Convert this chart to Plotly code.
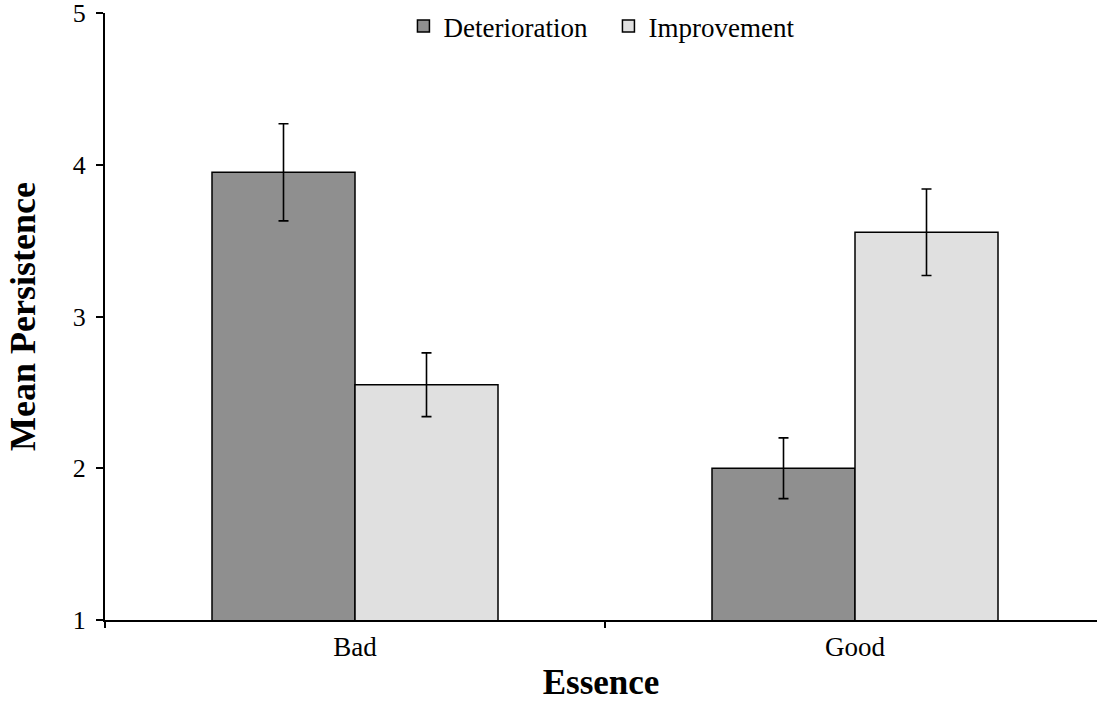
import plotly.graph_objects as go

categories = ["Bad", "Good"]
deterioration = [3.95, 2.00]
deterioration_err = [0.32, 0.20]
improvement = [2.55, 3.555]
improvement_err = [0.21, 0.285]
y_ticks = [1, 2, 3, 4, 5]

font_family = "Liberation Serif, Times New Roman, serif"

fig = go.Figure()
fig.add_trace(go.Bar(
    name="Deterioration", x=categories, y=deterioration,
    marker=dict(color="#8f8f8f", line=dict(color="black", width=1.5)),
    error_y=dict(type="data", array=deterioration_err, color="black", thickness=1.6, width=5),
))
fig.add_trace(go.Bar(
    name="Improvement", x=categories, y=improvement,
    marker=dict(color="#e0e0e0", line=dict(color="black", width=1.5)),
    error_y=dict(type="data", array=improvement_err, color="black", thickness=1.6, width=5),
))

fig.update_layout(
    width=1097, height=702,
    margin=dict(l=105, r=0, t=13, b=82, autoexpand=False),
    plot_bgcolor="white", paper_bgcolor="white",
    barmode="group", bargap=0.428, bargroupgap=0,
    font=dict(family=font_family, color="black", size=27),
    showlegend=True,
    legend=dict(orientation="h", x=0.5075, xanchor="center", y=1.018, yanchor="top",
                font=dict(size=27, family=font_family), bgcolor="rgba(0,0,0,0)",
                tracegroupgap=0, itemwidth=30, entrywidth=160),
    xaxis=dict(
        range=[-0.5, 1.484], showline=True, linecolor="black", linewidth=2,
        ticks="outside", tickson="boundaries", ticklen=6, tickcolor="black", tickwidth=1.5,
        tickfont=dict(size=27), showgrid=False, ticklabelstandoff=2,
        title=dict(text="<b>Essence</b>", font=dict(size=35), standoff=12),
    ),
    yaxis=dict(
        range=[1, 5], tickvals=y_ticks, showline=True, linecolor="black", linewidth=2,
        ticks="outside", ticklen=7, tickcolor="black", tickwidth=1.5,
        tickfont=dict(size=26), showgrid=False, zeroline=False, ticklabelstandoff=5,
        ticklabeloverflow="allow",
        title=dict(text="<b>Mean Persistence</b>", font=dict(size=36), standoff=26),
    ),
)

fig.write_html("out.html", config={"displayModeBar": False},
               post_script="document.body.style.margin='0';document.body.style.overflow='hidden';")
